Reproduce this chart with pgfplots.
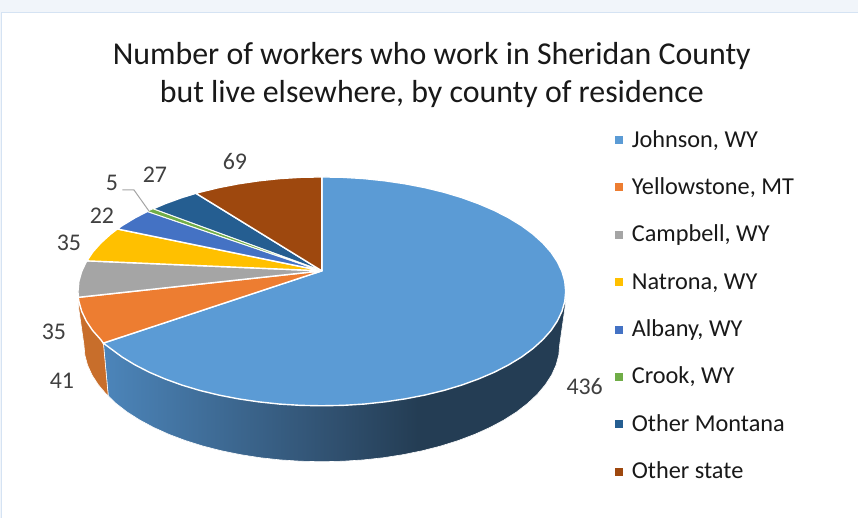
\documentclass[border=0pt]{standalone}
\usepackage{fontspec}
\setmainfont{Carlito}
\usepackage{pgfplots}
\pgfplotsset{compat=1.18}

\definecolor{cJohnson}{HTML}{5B9BD5}
\definecolor{cYellow}{HTML}{ED7D31}
\definecolor{cCamp}{HTML}{A5A5A5}
\definecolor{cNatrona}{HTML}{FFC000}
\definecolor{cAlbany}{HTML}{4472C4}
\definecolor{cCrook}{HTML}{70AD47}
\definecolor{cOtherMT}{HTML}{255E91}
\definecolor{cOtherSt}{HTML}{9E480E}
\definecolor{lab}{HTML}{404040}
\definecolor{wallA}{HTML}{4C85BA}
\definecolor{wallB}{HTML}{30506F}
\definecolor{wallC}{HTML}{243D54}
\definecolor{band}{HTML}{F1F5FA}
\definecolor{bandline}{HTML}{D5E3F3}
\definecolor{wallO}{HTML}{C86E2B}

\pgfdeclarehorizontalshading{wall}{100bp}{
  color(0bp)=(wallA);
  color(25bp)=(wallA);
  color(50bp)=(wallB);
  color(59bp)=(wallC);
  color(75bp)=(wallC);
  color(100bp)=(wallC)}

\begin{document}
\begin{tikzpicture}
\begin{axis}[
  width=858bp, height=518bp, scale only axis,
  xmin=0, xmax=858, ymin=0, ymax=518, y dir=reverse,
  hide axis, clip=false,
  legend cell align=left,
  legend image code/.code={\fill[draw=none,#1] (0bp,3bp) rectangle (8bp,11bp);},
  legend style={at={(axis cs:610,127)}, anchor=north west, draw=none, fill=none,
    font=\fontsize{24.4}{24.4}\selectfont, text=black!90,
    nodes={text height=15bp, text depth=5bp, inner sep=0pt, anchor=base west},
    row sep=27.4bp, column sep=9bp, inner sep=5bp},
]
% background
\addplot[forget plot, fill=band, draw=none] coordinates {(0,0)(858,0)(858,518)(0,518)} --cycle;
\addplot[forget plot, fill=white, draw=none] coordinates {(1.5,13)(858,13)(858,518)(1.5,518)} --cycle;
\addplot[forget plot, draw=bandline, line width=1bp] coordinates {(1.5,518)(1.5,13)(858,13)};

% side walls
\addplot[forget plot, shading=wall, draw=white, line width=0.6bp] coordinates {
  (566,300)(565,310)(560,345)(559.1,355.2)(556.4,365.3)(551.9,375.3)(545.6,385)
  (537.7,394.4)(528.1,403.5)(517,412.1)(504.3,420.2)(490.3,427.7)(475,434.6)
  (458.5,440.8)(441,446.3)(422.6,451)(403.4,454.9)(383.6,458)(363.3,460.2)
  (342.8,461.5)(322,462)(301.2,461.5)(280.7,460.2)(260.4,458)(240.6,454.9)
  (221.4,451)(203,446.3)(185.5,440.8)(169,434.6)(153.7,427.7)(139.7,420.2)
  (127,412.1)(115.9,403.5)(108.3,396)(103.5,344)} --cycle;
\addplot[forget plot, fill=wallO, draw=white, line width=0.6bp] coordinates {
  (103.5,344)(108.3,396)(106.3,394.4)(98.4,385)(92.1,375.3)(87.6,365.3)
  (84.9,355.2)(84,345)(79,310)(78.3,297)} --cycle;

% top faces
\pgfplotsset{slice/.style={forget plot, fill=#1, draw=white, line width=1.4bp, line join=round}}
\addplot[slice=cJohnson] coordinates {
  (322,271)(322,177)(343.3,177.4)(364.4,178.7)(385.1,180.9)(405.4,183.9)(425.1,187.7)
  (444,192.3)(462,197.7)(478.8,203.8)(494.5,210.5)(508.9,217.9)(521.9,225.8)
  (533.3,234.25)(543.1,243.1)(551.3,252.3)(557.7,261.9)(562.3,271.6)(565.1,281.5)
  (566,291.5)(565.1,301.5)(562.3,311.4)(557.7,321.1)(551.3,330.7)(543.1,339.9)
  (533.3,348.75)(521.9,357.2)(508.9,365.1)(494.5,372.5)(478.8,379.2)(462,385.3)
  (444,390.7)(425.1,395.3)(405.4,399.1)(385.1,402.1)(364.4,404.3)(343.3,405.6)
  (322,406)(300.7,405.6)(279.6,404.3)(258.9,402.1)(238.6,399.1)(218.9,395.3)
  (200,390.7)(182,385.3)(165.2,379.2)(149.5,372.5)(135.1,365.1)(122.1,357.2)
  (110.7,348.75)(103.3,343.3)} --cycle;
\addplot[slice=cYellow] coordinates {
  (322,271)(103.3,343.3)(100.9,339.9)(92.7,330.7)(86.3,321.1)(81.7,311.4)
  (78.9,301.5)(78.3,297.5)} --cycle;
\addplot[slice=cCamp] coordinates {
  (322,271)(78.3,297.5)(78,291.5)(78.9,281.5)(81.7,271.6)(86.3,261.9)(87,261)} --cycle;
\addplot[slice=cNatrona] coordinates {
  (322,271)(87,261)(92.7,252.3)(100.9,243.1)(110.7,234.25)(117.4,229.1)} --cycle;
\addplot[slice=cAlbany] coordinates {
  (322,271)(117.4,229.1)(122.1,225.8)(135.1,217.9)(147.5,211.5)} --cycle;
\addplot[slice=cOtherMT] coordinates {
  (322,271)(153,209)(165.2,203.8)(182,197.7)(196,193.4)} --cycle;
\addplot[slice=cCrook, line width=0.7bp] coordinates {
  (322,271)(147.5,211.5)(153,209)} --cycle;
\addplot[slice=cOtherSt] coordinates {
  (322,271)(196,193.4)(200,192.3)(218.9,187.7)(238.6,183.9)(258.9,180.9)
  (279.6,178.7)(300.7,177.4)(322,177)} --cycle;

% leader line for the label 5
\addplot[forget plot, draw=cCamp, line width=1bp] coordinates {(122.5,190)(134,190)(149.3,211.5)};

% data labels
\begin{scope}[every node/.style={text=lab, font=\fontsize{24}{24}\selectfont, inner sep=0pt}]
  \node at (axis cs:235,162) {69};
  \node at (axis cs:155,175) {27};
  \node at (axis cs:112,183) {5};
  \node at (axis cs:102,216) {22};
  \node at (axis cs:69,243) {35};
  \node at (axis cs:54,332) {35};
  \node at (axis cs:62,381) {41};
  \node at (axis cs:585,387) {436};
\end{scope}

% title
\node[align=center, font=\fontsize{32}{38}\selectfont, text=black!90, inner sep=0pt]
  at (axis cs:432,75) {Number of workers who work in Sheridan County\\but live elsewhere, by county of residence};

% legend
\addlegendimage{fill=cJohnson}\addlegendentry{Johnson, WY}
\addlegendimage{fill=cYellow}\addlegendentry{Yellowstone, MT}
\addlegendimage{fill=cCamp}\addlegendentry{Campbell, WY}
\addlegendimage{fill=cNatrona}\addlegendentry{Natrona, WY}
\addlegendimage{fill=cAlbany}\addlegendentry{Albany, WY}
\addlegendimage{fill=cCrook}\addlegendentry{Crook, WY}
\addlegendimage{fill=cOtherMT}\addlegendentry{Other Montana}
\addlegendimage{fill=cOtherSt}\addlegendentry{Other state}
\end{axis}
\end{tikzpicture}
\end{document}
